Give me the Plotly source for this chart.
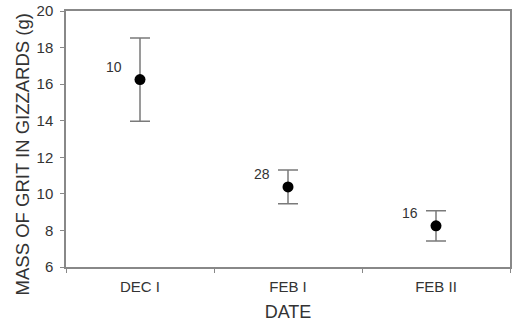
import plotly.graph_objects as go

dates = ["DEC I", "FEB I", "FEB II"]
mean_grit = [16.25, 10.38, 8.25]
err_plus = [2.28, 0.92, 0.83]
err_minus = [2.28, 0.92, 0.83]
sample_n = ["10", "28", "16"]
y_ticks = [6, 8, 10, 12, 14, 16, 18, 20]

fig = go.Figure()
fig.add_trace(go.Scatter(
    x=dates, y=mean_grit, mode="markers",
    marker=dict(color="black", size=11),
    error_y=dict(type="data", array=err_plus, arrayminus=err_minus,
                 color="#7a7a7a", thickness=1.5, width=10),
    showlegend=False,
))
for d, m, n in zip(dates, mean_grit, sample_n):
    fig.add_annotation(x=d, y=m, text=n, showarrow=False, xshift=-26, yshift=13,
                       font=dict(size=14, color="#333"))

# y-axis title as rotated annotation (positioned like the reference)
fig.add_annotation(text="MASS OF GRIT IN GIZZARDS (g)", xref="paper", yref="paper",
                   x=-0.099, y=0.44, textangle=-90, showarrow=False,
                   xanchor="center", yanchor="middle",
                   font=dict(size=18.5, color="#333"))

fig.update_layout(
    width=514, height=322,
    margin=dict(l=66, r=2, t=10, b=55),
    plot_bgcolor="white", paper_bgcolor="white",
    font=dict(family="Liberation Sans, Arial, sans-serif", color="#333"),
)
fig.update_xaxes(
    type="category", range=[-0.5, 2.5], tickson="boundaries",
    ticks="outside", ticklen=4, tickcolor="#888",
    showline=True, linecolor="#888", linewidth=1.5, mirror=True,
    showgrid=False, tickfont=dict(size=15), ticklabelstandoff=5,
    title=dict(text="DATE", font=dict(size=18), standoff=12),
)
fig.update_yaxes(
    range=[6, 20], tickvals=y_ticks, ticks="outside", ticklen=4, tickcolor="#888",
    showline=True, linecolor="#888", linewidth=1.5, mirror=True,
    showgrid=False, zeroline=False, tickfont=dict(size=15), ticklabelstandoff=4,
)
fig.write_html("out.html", config={"displayModeBar": False},
               post_script="document.body.style.margin='0';")
